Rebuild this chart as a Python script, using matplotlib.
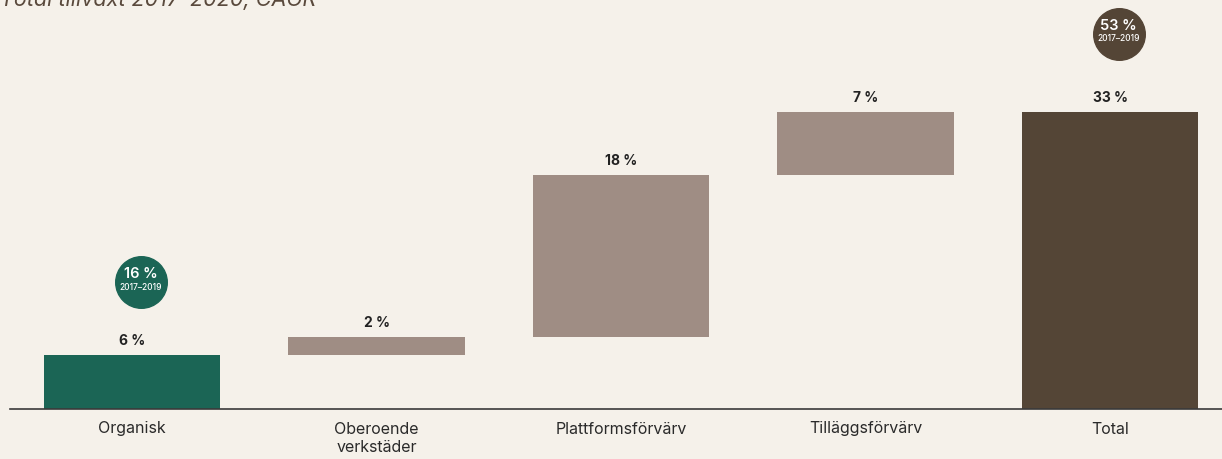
import matplotlib.pyplot as plt
import numpy as np

plt.rcParams['font.family'] = ['Inter', 'DejaVu Sans']

categories = ['Organisk', 'Oberoende\nverkstäder', 'Plattformsförvärv', 'Tilläggsförvärv', 'Total']
values = [6, 2, 18, 7, 33]
value_labels = ['6 %', '2 %', '18 %', '7 %', '33 %']
bubble_values = ['16 %', None, None, None, '53 %']
bubble_period = '2017–2019'

bg = '#f5f1ea'
green = '#1b6555'
taupe = '#9f8d84'
brown = '#544536'
colors = [green, taupe, taupe, taupe, brown]

# waterfall: steps stack on each other, the total starts at zero
bottoms = list(np.concatenate([[0], np.cumsum(values[:-2])])) + [0]

fig = plt.figure(figsize=(12.22, 4.59), dpi=100, facecolor=bg)
ax = fig.add_axes([10 / 1222, 50 / 459, 1212 / 1222, 409 / 459], facecolor=bg)

x = np.arange(len(categories))
ax.bar(x, values, bottom=bottoms, width=0.72, color=colors, zorder=2)

for xi, v, b, lab in zip(x, values, bottoms, value_labels):
    ax.annotate(lab, (xi, b + v), xytext=(0, 5), textcoords='offset points',
                ha='center', va='bottom', fontsize=10, fontweight='bold', color='#222222')

# growth bubbles for 2017-2019
bubble_y = [14.1, None, None, None, 41.7]
for xi, bv, by, c in zip(x, bubble_values, bubble_y, colors):
    if bv is None:
        continue
    ax.scatter([xi + 0.035], [by], s=1380, color=c, zorder=3, clip_on=False)
    ax.annotate(bv, (xi + 0.035, by), xytext=(0, 0.5), textcoords='offset points',
                ha='center', va='bottom', fontsize=10.5, fontweight='semibold', color='white', zorder=4)
    ax.annotate(bubble_period, (xi + 0.035, by), xytext=(0, -0.5), textcoords='offset points',
                ha='center', va='top', fontsize=6, fontweight='medium', color='white', zorder=4)

ax.set_xlim(-0.499, 4.458)
ax.set_ylim(0, 45.44)
ax.set_xticks(x)
ax.set_xticklabels(categories, fontsize=11.5, color='#2a2a2a', linespacing=1.3)
ax.tick_params(axis='x', length=0, pad=9)
ax.set_yticks([])
for s in ['top', 'right', 'left']:
    ax.spines[s].set_visible(False)
ax.spines['bottom'].set_color('#3a3a3a')
ax.spines['bottom'].set_linewidth(1.2)

fig.text(0.0, 1 - 6 / 459, 'Total tillväxt 2017–2020, CAGR', fontsize=15.5, style='italic',
         color='#5a4a3d', ha='left', va='baseline')

fig.savefig('out.png', dpi=100, facecolor=bg)
